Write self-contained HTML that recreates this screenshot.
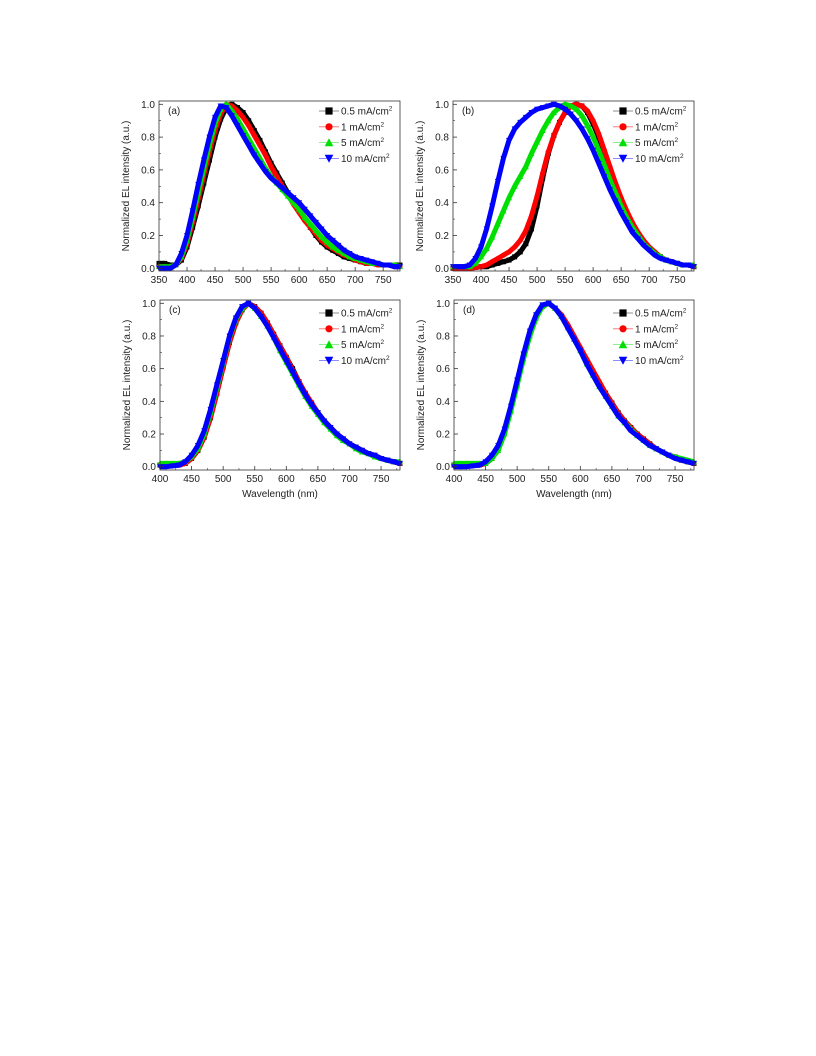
<!DOCTYPE html>
<html><head><meta charset="utf-8">
<style>
html,body{margin:0;padding:0;background:#fff;}
svg{display:block;font-family:"Liberation Sans",Arial,sans-serif;}
</style></head>
<body>
<svg id="fig" width="816" height="1056" viewBox="0 0 816 1056" xmlns="http://www.w3.org/2000/svg"></svg>
<script>
// ---- data (wavelength every 10 nm) ----
const wlA = [350,360,370,380,390,400,410,420,430,440,450,460,470,480,490,500,510,520,530,540,550,560,570,580,590,600,610,620,630,640,650,660,670,680,690,700,710,720,730,740,750,760,770,780];
const aBlack = [0.03,0.03,0.02,0.02,0.05,0.13,0.25,0.38,0.52,0.66,0.80,0.91,0.98,1.00,0.98,0.95,0.90,0.84,0.78,0.71,0.64,0.58,0.52,0.46,0.40,0.35,0.30,0.25,0.20,0.16,0.13,0.11,0.09,0.07,0.06,0.05,0.04,0.03,0.03,0.03,0.02,0.02,0.02,0.02];
const aRed   = [0.01,0.01,0.01,0.02,0.06,0.15,0.28,0.42,0.57,0.71,0.84,0.94,1.00,0.99,0.96,0.92,0.87,0.81,0.75,0.69,0.62,0.56,0.50,0.45,0.39,0.34,0.29,0.25,0.21,0.17,0.14,0.12,0.10,0.08,0.07,0.05,0.04,0.03,0.03,0.02,0.02,0.02,0.01,0.01];
const aGreen = [0.01,0.01,0.01,0.02,0.07,0.17,0.31,0.46,0.61,0.75,0.88,0.97,1.00,0.96,0.91,0.85,0.79,0.73,0.67,0.61,0.56,0.52,0.48,0.44,0.40,0.36,0.31,0.27,0.23,0.19,0.16,0.13,0.11,0.09,0.07,0.06,0.05,0.04,0.03,0.03,0.02,0.02,0.02,0.01];
const aBlue  = [0.00,0.00,0.00,0.02,0.09,0.20,0.35,0.51,0.66,0.80,0.92,0.99,0.98,0.93,0.87,0.81,0.75,0.69,0.64,0.59,0.55,0.52,0.49,0.46,0.43,0.40,0.36,0.32,0.28,0.24,0.20,0.17,0.14,0.11,0.09,0.07,0.06,0.05,0.04,0.03,0.02,0.02,0.01,0.01];

const bBlack = [0.00,0.00,0.00,0.00,0.005,0.01,0.01,0.02,0.03,0.04,0.05,0.07,0.10,0.15,0.24,0.38,0.55,0.70,0.81,0.89,0.95,0.99,1.00,0.99,0.95,0.88,0.80,0.71,0.61,0.51,0.42,0.34,0.27,0.21,0.16,0.12,0.09,0.07,0.05,0.04,0.03,0.02,0.02,0.01];
const bRed   = [0.00,0.00,0.00,0.00,0.005,0.01,0.02,0.04,0.06,0.08,0.10,0.13,0.17,0.23,0.32,0.44,0.58,0.71,0.81,0.89,0.95,0.99,1.00,0.99,0.96,0.90,0.82,0.72,0.62,0.52,0.43,0.35,0.28,0.22,0.17,0.13,0.10,0.07,0.05,0.04,0.03,0.02,0.02,0.01];
const bGreen = [0.01,0.01,0.01,0.01,0.03,0.07,0.12,0.19,0.27,0.35,0.43,0.50,0.56,0.62,0.70,0.77,0.84,0.90,0.95,0.98,1.00,0.99,0.97,0.93,0.87,0.80,0.72,0.63,0.54,0.46,0.38,0.31,0.25,0.20,0.15,0.12,0.09,0.07,0.05,0.04,0.03,0.02,0.02,0.02];
const bBlue  = [0.01,0.01,0.01,0.02,0.06,0.13,0.24,0.38,0.53,0.67,0.78,0.85,0.89,0.92,0.95,0.97,0.98,0.99,1.00,0.99,0.97,0.94,0.90,0.85,0.79,0.72,0.64,0.56,0.48,0.41,0.34,0.28,0.22,0.18,0.14,0.11,0.08,0.06,0.05,0.04,0.03,0.02,0.02,0.01];

const wlC = [400,410,420,430,440,450,460,470,480,490,500,510,520,530,540,550,560,570,580,590,600,610,620,630,640,650,660,670,680,690,700,710,720,730,740,750,760,770,780];
const cBlack = [0.01,0.01,0.01,0.01,0.02,0.05,0.10,0.18,0.30,0.45,0.61,0.76,0.88,0.96,1.00,0.98,0.94,0.88,0.81,0.74,0.67,0.60,0.52,0.45,0.39,0.33,0.28,0.24,0.20,0.17,0.14,0.12,0.10,0.08,0.07,0.05,0.04,0.03,0.02];
const cRed   = [0.01,0.01,0.01,0.01,0.02,0.05,0.10,0.18,0.30,0.45,0.61,0.76,0.88,0.96,1.00,0.98,0.94,0.88,0.81,0.74,0.67,0.59,0.52,0.45,0.39,0.33,0.28,0.24,0.20,0.17,0.14,0.12,0.10,0.08,0.07,0.05,0.04,0.03,0.02];
const cGreen = [0.02,0.02,0.02,0.02,0.03,0.06,0.11,0.20,0.33,0.48,0.64,0.79,0.90,0.97,1.00,0.97,0.92,0.86,0.79,0.71,0.64,0.57,0.50,0.43,0.37,0.32,0.27,0.23,0.19,0.16,0.14,0.11,0.09,0.08,0.06,0.05,0.04,0.03,0.03];
const cBlue  = [0.00,0.00,0.005,0.01,0.03,0.07,0.13,0.22,0.35,0.50,0.65,0.80,0.91,0.98,1.00,0.97,0.92,0.86,0.79,0.72,0.65,0.58,0.51,0.44,0.38,0.33,0.28,0.24,0.20,0.17,0.14,0.12,0.10,0.08,0.07,0.05,0.04,0.03,0.02];

const dBlack = [0.01,0.01,0.01,0.01,0.01,0.02,0.05,0.11,0.21,0.35,0.51,0.67,0.81,0.92,0.98,1.00,0.97,0.92,0.86,0.79,0.72,0.65,0.58,0.51,0.45,0.39,0.33,0.28,0.24,0.20,0.17,0.14,0.11,0.09,0.07,0.06,0.04,0.03,0.02];
const dRed   = [0.01,0.01,0.01,0.01,0.01,0.02,0.05,0.11,0.21,0.35,0.51,0.67,0.81,0.92,0.98,1.00,0.97,0.93,0.87,0.80,0.73,0.66,0.59,0.52,0.45,0.39,0.33,0.28,0.24,0.20,0.17,0.14,0.11,0.09,0.07,0.06,0.04,0.03,0.02];
const dGreen = [0.02,0.02,0.02,0.02,0.02,0.02,0.05,0.10,0.20,0.34,0.50,0.66,0.80,0.91,0.98,1.00,0.97,0.92,0.85,0.78,0.71,0.63,0.56,0.49,0.43,0.37,0.31,0.27,0.23,0.19,0.16,0.13,0.11,0.09,0.07,0.06,0.05,0.04,0.03];
const dBlue  = [0.00,0.00,0.00,0.005,0.01,0.03,0.07,0.13,0.23,0.37,0.53,0.69,0.83,0.93,0.99,1.00,0.97,0.92,0.85,0.78,0.71,0.63,0.56,0.49,0.43,0.37,0.31,0.27,0.22,0.19,0.16,0.13,0.11,0.09,0.07,0.05,0.04,0.03,0.02];

const legendLabels = ["0.5 mA/cm","1 mA/cm","5 mA/cm","10 mA/cm"];
const seriesColors = ["#000000","#ff0000","#00e000","#0000ff"];
const markerTypes = ["square","circle","up","down"];
const yTicks = [0.0,0.2,0.4,0.6,0.8,1.0];
const xTicksTop = [350,400,450,500,550,600,650,700,750];
const xTicksBot = [400,450,500,550,600,650,700,750];

const NS = "http://www.w3.org/2000/svg";
const svg = document.getElementById("fig");
function mk(tag, attrs, parent){
  const e = document.createElementNS(NS, tag);
  for (const k in attrs) e.setAttribute(k, attrs[k]);
  (parent||svg).appendChild(e);
  return e;
}
function marker(g, type, x, y, s, color){
  let e;
  if (type==="square") e = mk("rect",{x:x-s,y:y-s,width:2*s,height:2*s,fill:color},g);
  else if (type==="circle") e = mk("circle",{cx:x,cy:y,r:s,fill:color},g);
  else if (type==="up") e = mk("polygon",{points:`${x},${y-s*1.2} ${x-s*1.2},${y+s} ${x+s*1.2},${y+s}`,fill:color},g);
  else e = mk("polygon",{points:`${x},${y+s*1.2} ${x-s*1.2},${y-s} ${x+s*1.2},${y-s}`,fill:color},g);
  return e;
}

const panels = [
  {id:"a", L:159, R:400, T:101, B:271, y1:104.3, y0:268.3, xmin:350, xmax:780, wl:wlA, series:[aBlack,aRed,aGreen,aBlue], ticks:xTicksTop, title:false, legY:111},
  {id:"b", L:453, R:694, T:101, B:271, y1:104.3, y0:268.3, xmin:350, xmax:780, wl:wlA, series:[bBlack,bRed,bGreen,bBlue], ticks:xTicksTop, title:false, legY:111},
  {id:"c", L:160, R:400, T:300, B:470, y1:303.3, y0:466.7, xmin:400, xmax:780, wl:wlC, series:[cBlack,cRed,cGreen,cBlue], ticks:xTicksBot, title:true, legY:313},
  {id:"d", L:454, R:694, T:300, B:470, y1:303.3, y0:466.7, xmin:400, xmax:780, wl:wlC, series:[dBlack,dRed,dGreen,dBlue], ticks:xTicksBot, title:true, legY:313}
];

panels.forEach(p=>{
  const xS = v => p.L + (v - p.xmin)/(p.xmax - p.xmin)*(p.R - p.L);
  const yS = v => p.y0 + v*(p.y1 - p.y0);
  const g = mk("g",{});
  
  

  p.series.forEach((arr, si)=>{
    const sg = mk("g",{}, g);
    
    
    const pts = arr.map((v,i)=>`${xS(p.wl[i]).toFixed(1)},${yS(v).toFixed(1)}`).join(" ");
    const pl = mk("polyline",{points:pts, fill:"none", stroke:seriesColors[si], "stroke-width":5, "stroke-linejoin":"round"}, sg);
    
    
    arr.forEach((v,i)=>{
      const m = marker(sg, markerTypes[si], xS(p.wl[i]), yS(v), 2.5, seriesColors[si]);
      
      
    });
  });

  const fr = mk("rect",{x:p.L,y:p.T,width:p.R-p.L,height:p.B-p.T,fill:"none",stroke:"#333","stroke-width":0.8}, g);
  
  

  yTicks.forEach(t=>{
    const y = yS(t);
    mk("line",{x1:p.L,x2:p.L+4,y1:y,y2:y,stroke:"#333","stroke-width":0.8}, g);
    if (t + 0.1 < 1.05) mk("line",{x1:p.L,x2:p.L+2,y1:yS(t+0.1),y2:yS(t+0.1),stroke:"#333","stroke-width":0.6}, g);
    const tx = mk("text",{x:p.L-4,y:y+3.5,"text-anchor":"end","font-size":10,fill:"#222"}, g);
    tx.textContent = t.toFixed(1);
    
    
  });
  p.ticks.forEach(t=>{
    const x = xS(t);
    mk("line",{x1:x,x2:x,y1:p.B,y2:p.B-4,stroke:"#333","stroke-width":0.8}, g);
    if (t+25 < p.xmax) mk("line",{x1:xS(t+25),x2:xS(t+25),y1:p.B,y2:p.B-2,stroke:"#333","stroke-width":0.6}, g);
    const tx = mk("text",{x:x,y:p.B+12,"text-anchor":"middle","font-size":10,fill:"#222"}, g);
    tx.textContent = t;
    
    
  });

  const cy = (p.T+p.B)/2;
  const yt = mk("text",{x:p.L-30,y:cy,"text-anchor":"middle","font-size":10,fill:"#222",transform:`rotate(-90 ${p.L-30} ${cy})`}, g);
  yt.textContent = "Normalized EL intensity (a.u.)";
  
  

  if (p.title){
    const xt = mk("text",{x:(p.L+p.R)/2,y:p.B+27,"text-anchor":"middle","font-size":10,fill:"#222"}, g);
    xt.textContent = "Wavelength (nm)";
    
    
  }

  const pl = mk("text",{x:p.L+9,y:p.T+13,"font-size":10,fill:"#222"}, g);
  pl.textContent = "(" + p.id + ")";
  
  

  const lg = mk("g",{}, g);
  
  
  legendLabels.forEach((lab, i)=>{
    const ly = p.legY + i*15.8;
    const mx = p.R - 71;
    const ent = mk("g",{}, lg);
    
    
    mk("line",{x1:mx-10,x2:mx+10,y1:ly,y2:ly,stroke:seriesColors[i],"stroke-width":0.8,opacity:0.6}, ent);
    marker(ent, markerTypes[i], mx, ly, 3.6, seriesColors[i]);
    const t = mk("text",{x:mx+12,y:ly+3.5,"font-size":10,fill:"#222"}, ent);
    t.textContent = lab;
    const sup = mk("tspan",{dy:-4,"font-size":6.5}, t);
    sup.textContent = "2";
  });
});
</script>
</body></html>
